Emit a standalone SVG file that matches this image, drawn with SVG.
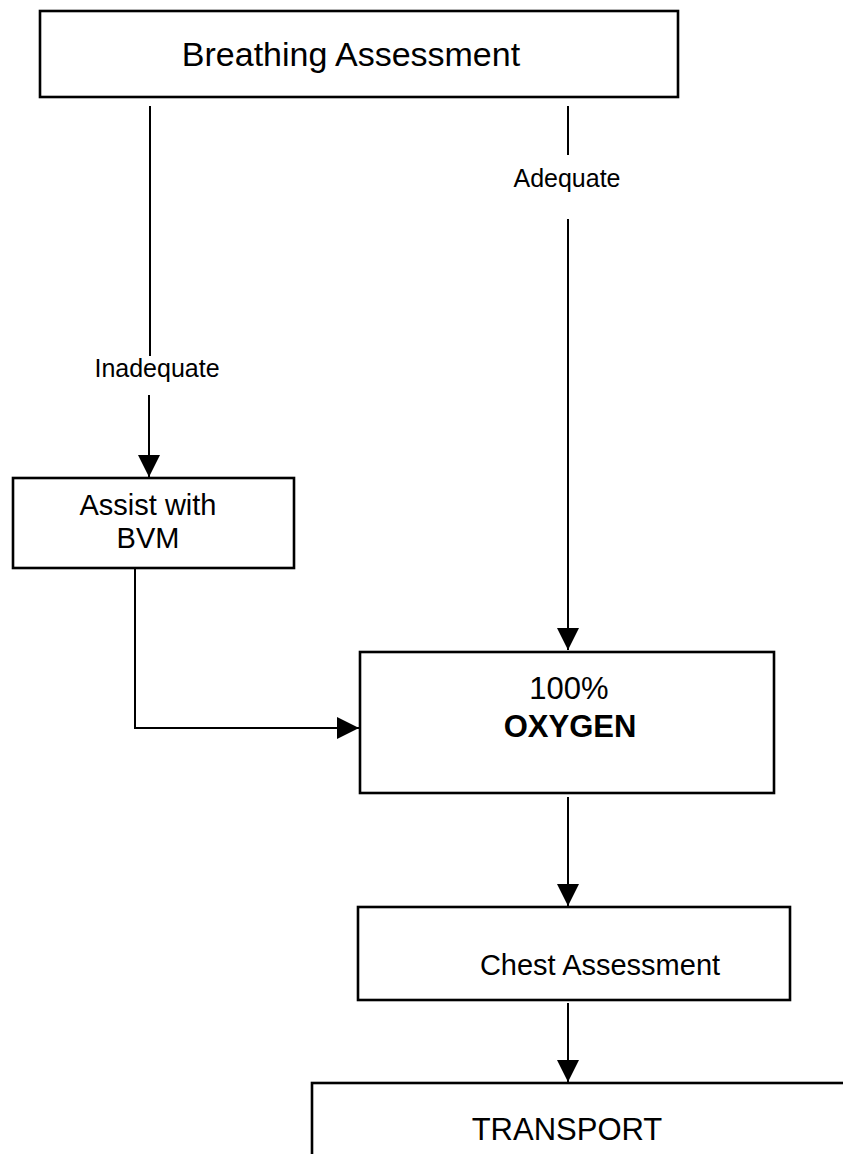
<svg xmlns="http://www.w3.org/2000/svg" width="843" height="1154" viewBox="0 0 843 1154">
  <style>
    .box { fill: #ffffff; stroke: #000000; stroke-width: 2.6; }
    .link { fill: none; stroke: #000000; stroke-width: 2; }
    .txt { font-family: "Liberation Sans", Arial, sans-serif; fill: #000000; text-anchor: middle; }
    .lbl { font-family: "Liberation Sans", Arial, sans-serif; fill: #000000; text-anchor: middle; font-size: 25px; }
  </style>
  <defs>
    <marker id="arrow" markerUnits="userSpaceOnUse" markerWidth="24" markerHeight="24" refX="22" refY="11" orient="auto">
      <path d="M0,0 L22,11 L0,22 Z" fill="#000000"/>
    </marker>
  </defs>
  <rect width="843" height="1154" fill="#ffffff"/>

  <!-- connectors -->
  <g id="connectors">
    <line class="link" x1="150" y1="106" x2="150" y2="356"/>
    <text class="lbl" x="157" y="377">Inadequate</text>
    <line class="link" x1="149" y1="395" x2="149" y2="477" marker-end="url(#arrow)"/>

    <line class="link" x1="568" y1="106" x2="568" y2="155"/>
    <text class="lbl" x="567" y="187">Adequate</text>
    <line class="link" x1="568" y1="219" x2="568" y2="650" marker-end="url(#arrow)"/>

    <polyline class="link" points="135,568 135,728 359,728" marker-end="url(#arrow)"/>

    <line class="link" x1="568" y1="797" x2="568" y2="906" marker-end="url(#arrow)"/>
    <line class="link" x1="568" y1="1003" x2="568" y2="1082" marker-end="url(#arrow)"/>
  </g>

  <g id="breathing">
    <rect class="box" x="40" y="11" width="638" height="86"/>
    <text class="txt" x="351" y="66" font-size="34">Breathing Assessment</text>
  </g>

  <g id="assist">
    <rect class="box" x="13" y="478" width="281" height="90"/>
    <text class="txt" x="148" y="515" font-size="29">Assist with</text>
    <text class="txt" x="148" y="548" font-size="29">BVM</text>
  </g>

  <g id="oxygen">
    <rect class="box" x="360" y="652" width="414" height="141"/>
    <text class="txt" x="569" y="699" font-size="31">100%</text>
    <text class="txt" x="570" y="737" font-size="31" font-weight="bold">OXYGEN</text>
  </g>

  <g id="chest">
    <rect class="box" x="358" y="907" width="432" height="93"/>
    <text class="txt" x="600" y="975" font-size="29">Chest Assessment</text>
  </g>

  <g id="transport">
    <rect class="box" x="312" y="1083" width="560" height="100"/>
    <text class="txt" x="567" y="1140" font-size="31">TRANSPORT</text>
  </g>
</svg>
